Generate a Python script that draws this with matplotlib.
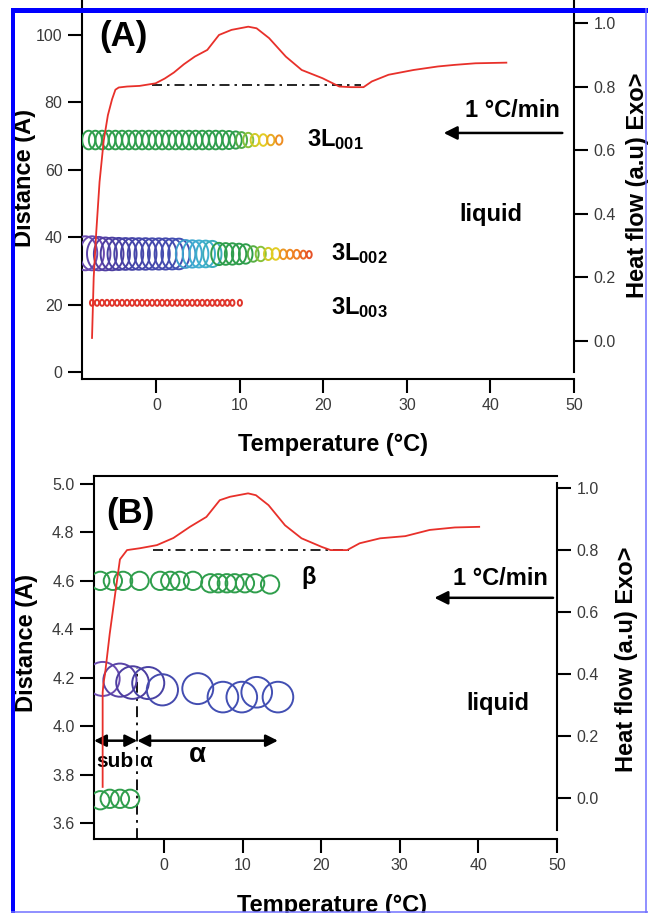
"""
Two-panel DSC / SAXS-WAXS figure: (A) long spacings, (B) short spacings,
heat flow on the right axis.
"""
import numpy as np
import matplotlib.pyplot as plt
from matplotlib.colors import LinearSegmentedColormap
from matplotlib.path import Path
from matplotlib.lines import Line2D

plt.rcParams.update({
    "font.family": ["Liberation Sans", "DejaVu Sans"],
    "mathtext.fontset": "custom",
    "mathtext.rm": "Liberation Sans",
    "mathtext.bf": "Liberation Sans:bold",
    "axes.linewidth": 1.5,
})

# ---------------------------------------------------------------------------
# Data
# ---------------------------------------------------------------------------

# panel A heat flow (DSC, cooling 1 °C/min)
temp_a = [-7.7, -7.5, -7.2, -6.8, -6.3, -5.8, -5.3, -4.9, -4.5, -3.5, -2.0,
          -0.1, 1.0, 2.1, 3.3, 4.6, 6.1, 7.5, 9.0, 11.0, 12.0, 13.5, 15.5,
          17.4, 19.9, 21.9, 23.3, 24.8, 25.8, 27.8, 30.8, 33.7, 35.7, 38.2, 41.9]
heat_a = [0.01, 0.20, 0.34, 0.50, 0.63, 0.71, 0.76, 0.79, 0.797, 0.80, 0.802,
          0.81, 0.825, 0.844, 0.87, 0.894, 0.915, 0.962, 0.978, 0.988, 0.983,
          0.952, 0.894, 0.852, 0.826, 0.80, 0.798, 0.798, 0.816, 0.837, 0.852,
          0.863, 0.868, 0.873, 0.875]
baseline_a = ([-0.5, 24.5], [0.805, 0.805])

# 3L001
l001_t = [-8.1, -7.3, -6.5, -5.7, -4.9, -4.1, -3.3, -2.5, -1.7, -0.9, -0.1,
          0.7, 1.5, 2.3, 3.1, 3.9, 4.7, 5.5, 6.3, 7.1, 7.9, 8.7, 9.5, 10.2,
          11.0, 11.8, 12.8, 13.7, 14.7]
l001_d = [68.8] * 29
l001_i = [0.45] * 21 + [0.43, 0.40, 0.35, 0.30, 0.22, 0.20, 0.16, 0.12]

# 3L002
l002_t = [-8.5, -7.7, -6.9, -6.1, -5.3, -4.5, -3.7, -2.9, -2.1, -1.3, -0.5,
          0.3, 1.1, 1.9, 2.7, 3.5, 4.3, 5.1, 5.9, 6.7, 7.5, 8.3, 9.1, 9.9,
          10.7, 11.6, 12.5, 13.4, 14.3, 15.2, 16.0, 16.8, 17.6, 18.3]
l002_d = [35.2, 35.2, 35.1, 35.0, 35.0, 35.0, 35.0, 35.0, 35.0, 35.0, 35.0,
          35.0, 35.0, 35.0, 35.0, 35.0, 35.0, 35.0, 35.0, 35.0, 35.0, 35.0,
          35.0, 35.0, 35.0, 35.0, 35.0, 35.0, 35.0, 34.9, 34.9, 34.9, 34.8, 34.8]
l002_i = [1.0, 1.0, 0.98, 0.96, 0.95, 0.93, 0.92, 0.92, 0.91, 0.91, 0.90,
          0.90, 0.90, 0.89, 0.88, 0.78, 0.76, 0.75, 0.74, 0.72, 0.58, 0.56,
          0.55, 0.52, 0.48, 0.34, 0.30, 0.22, 0.20, 0.13, 0.11, 0.10, 0.07, 0.04]

# 3L003
l003_t = [-7.7, -7.1, -6.5, -5.9, -5.3, -4.7, -4.1, -3.5, -2.9, -2.3, -1.7,
          -1.1, -0.5, 0.1, 0.7, 1.3, 1.9, 2.5, 3.1, 3.7, 4.3, 4.9, 5.5, 6.1,
          6.7, 7.3, 7.9, 8.5, 9.1, 10.0]
l003_d = [20.5] * 30
l003_i = [0.0] * 30

# panel B heat flow
temp_b = [-7.8, -7.8, -7.7, -7.5, -6.9, -6.2, -5.6, -4.7, -3.05, -0.9, 1.2,
          3.3, 5.4, 7.1, 8.4, 10.7, 11.7, 13.3, 15.4, 17.5, 20.1, 21.2, 23.3,
          24.9, 27.5, 30.7, 33.8, 37.0, 40.1]
heat_b = [0.036, 0.34, 0.37, 0.40, 0.53, 0.66, 0.77, 0.80, 0.806, 0.816,
          0.839, 0.875, 0.907, 0.961, 0.972, 0.983, 0.977, 0.945, 0.88, 0.838,
          0.81, 0.80, 0.80, 0.822, 0.838, 0.845, 0.865, 0.873, 0.875]
baseline_b = ([-1.4, 23.5], [0.80, 0.80])

# beta
beta_t = [-8.1, -6.5, -5.2, -3.1, -0.5, 0.8, 2.0, 3.7, 5.9, 6.9, 8.0, 9.0,
          10.3, 11.6, 13.5]
beta_d = [4.60, 4.60, 4.60, 4.60, 4.60, 4.60, 4.60, 4.60, 4.59, 4.59, 4.59,
          4.59, 4.59, 4.59, 4.585]
beta_i = [0.44] * 15

# alpha
alpha_t = [-7.8, -5.6, -4.0, -2.0, -0.2, 4.3, 7.5, 9.9, 11.8, 14.5]
alpha_d = [4.195, 4.19, 4.18, 4.178, 4.15, 4.155, 4.12, 4.12, 4.14, 4.12]
alpha_i = [1.0, 0.97, 0.95, 0.93, 0.90, 0.89, 0.88, 0.88, 0.88, 0.88]

# sub alpha
sub_t = [-8.1, -6.9, -5.6, -4.3]
sub_d = [3.694, 3.70, 3.70, 3.70]
sub_i = [0.44] * 4

# intensity -> colour (red = weak, violet = strong)
CMAP = LinearSegmentedColormap.from_list("xray", [
    (0.00, "#e0352b"), (0.10, "#ef7f22"), (0.20, "#e3cc22"),
    (0.30, "#86c23c"), (0.38, "#2f9e4c"), (0.58, "#2f9e4c"),
    (0.75, "#3fb0d2"), (0.88, "#4250b4"), (0.95, "#4a3c9e"),
    (1.00, "#6b4bb0")])

RED = "#e8302a"

# tall ellipse marker for panel A
_th = np.linspace(0, 2 * np.pi, 72)
ELLIPSE = Path(np.column_stack([0.70 * np.cos(_th), np.sin(_th)]), closed=True)

W, H = 648, 913


def fig_rect(x0, y0, x1, y1):
    """pixel box (top-left origin) -> figure fraction rect"""
    return [x0 / W, 1 - y1 / H, (x1 - x0) / W, (y1 - y0) / H]


def sizes(intensity):
    diam_px = 6 + 28 * np.asarray(intensity)
    return (diam_px * 0.72) ** 2


def bubbles(ax, t, d, inten, marker="o"):
    ax.scatter(t, d, s=sizes(inten), marker=marker, facecolors="none",
               edgecolors=CMAP(np.asarray(inten)), linewidths=1.4, zorder=3)


def style(ax, ax2, right_bounds, ylim, ylim2, top_spine):
    ax.set_xlim(-8.9, 50)
    ax.set_xticks([0, 10, 20, 30, 40, 50])
    ax.set_ylim(*ylim)
    ax2.set_ylim(*ylim2)
    ax2.set_yticks([0.0, 0.2, 0.4, 0.6, 0.8, 1.0])
    ax2.yaxis.set_major_formatter(plt.FormatStrFormatter("%.1f"))
    ax.spines["right"].set_visible(False)
    ax.spines["top"].set_visible(top_spine)
    for s in ("left", "top", "bottom"):
        ax2.spines[s].set_visible(False)
    ax2.spines["right"].set_bounds(*right_bounds)
    for a in (ax, ax2):
        a.tick_params(direction="out", length=10, width=1.5, labelsize=11.5,
                      labelcolor="#3a3a3a", pad=4)


lab = dict(fontsize=17, fontweight="bold")

fig = plt.figure(figsize=(W / 100, H / 100), dpi=100)

# ---------------------------------------------------------------------------
# (A)
# ---------------------------------------------------------------------------
axA = fig.add_axes(fig_rect(82, -15, 574, 379))
axA2 = axA.twinx()
style(axA, axA2, (-0.097, 1.2), (-2.1, 114.8), (-0.119, 1.119), False)
axA.set_yticks([0, 20, 40, 60, 80, 100])

bubbles(axA, l003_t, l003_d, l003_i, ELLIPSE)
bubbles(axA, l002_t, l002_d, l002_i, ELLIPSE)
bubbles(axA, l001_t, l001_d, l001_i, ELLIPSE)

axA2.plot(temp_a, heat_a, color=RED, lw=1.3, zorder=4)
axA2.plot(*baseline_a, color="k", lw=1.2, ls=(0, (6, 3, 1.5, 3)))

axA.text(-3.9, 99.4, "(A)", fontsize=25, fontweight="bold", ha="center", va="center")
axA.text(48.3, 77.7, "1 °C/min", ha="right", va="center", **lab)
axA.annotate("", xy=(34.4, 70.9), xytext=(48.6, 70.9),
             arrowprops=dict(arrowstyle="-|>", color="k", lw=1.8,
                             mutation_scale=20, shrinkA=0, shrinkB=0))
axA.text(18.0, 68.8, r"$\mathbf{3L_{001}}$", ha="left", va="center", fontsize=17)
axA.text(20.9, 35.0, r"$\mathbf{3L_{002}}$", ha="left", va="center", fontsize=17)
axA.text(20.9, 19.0, r"$\mathbf{3L_{003}}$", ha="left", va="center", fontsize=17)
axA.text(40.1, 46.6, "liquid", ha="center", va="center", **lab)

axA.set_xlabel("Temperature (°C)", **lab)
axA.set_ylabel("Distance (A)", **lab)
axA2.set_ylabel("Heat flow (a.u) Exo>", **lab)
axA.xaxis.set_label_coords(0.511, -0.1675)
axA.yaxis.set_label_coords(-0.116, 0.51)
axA2.yaxis.set_label_coords(1.130, 0.492)
for t in (axA.xaxis.label, axA.yaxis.label, axA2.yaxis.label):
    t.set_va("center")

# ---------------------------------------------------------------------------
# (B)
# ---------------------------------------------------------------------------
axB = fig.add_axes(fig_rect(94, 476, 557, 839))
axB2 = axB.twinx()
style(axB, axB2, (-0.103, 1.016), (3.534, 5.033), (-0.132, 1.039), True)
axB.set_yticks([3.6, 3.8, 4.0, 4.2, 4.4, 4.6, 4.8, 5.0])
axB.yaxis.set_major_formatter(plt.FormatStrFormatter("%.1f"))

bubbles(axB, beta_t, beta_d, beta_i)
bubbles(axB, alpha_t, alpha_d, alpha_i)
bubbles(axB, sub_t, sub_d, sub_i)

axB2.plot(temp_b, heat_b, color=RED, lw=1.3, zorder=4)
axB2.plot(*baseline_b, color="k", lw=1.2, ls=(0, (6, 3, 1.5, 3)))
axB.plot([-3.4, -3.4], [3.534, 4.24], color="k", lw=1.3, ls=(0, (6, 3, 1.5, 3)))

axB.text(-4.3, 4.88, "(B)", fontsize=25, fontweight="bold", ha="center", va="center")
axB.text(17.5, 4.615, "β", ha="left", va="center", **lab)
axB.text(48.9, 4.61, "1 °C/min", ha="right", va="center", **lab)
axB.annotate("", xy=(34.4, 4.53), xytext=(49.5, 4.53),
             arrowprops=dict(arrowstyle="-|>", color="k", lw=1.8,
                             mutation_scale=20, shrinkA=0, shrinkB=0))
for x0, x1 in ((-8.9, -3.4), (-3.4, 14.5)):
    axB.annotate("", xy=(x0, 3.94), xytext=(x1, 3.94),
                 arrowprops=dict(arrowstyle="<|-|>", color="k", lw=1.8,
                                 mutation_scale=18, shrinkA=0, shrinkB=0))
axB.text(-6.2, 3.853, "sub", ha="center", va="center", fontsize=15, fontweight="bold")
axB.text(-2.4, 3.853, "α", ha="center", va="center", fontsize=15, fontweight="bold")
axB.text(4.3, 3.88, "α", ha="center", va="center", fontsize=20, fontweight="bold")
axB.text(42.5, 4.094, "liquid", ha="center", va="center", **lab)

axB.set_xlabel("Temperature (°C)", **lab)
axB.set_ylabel("Distance (A)", **lab)
axB2.set_ylabel("Heat flow (a.u) Exo>", **lab)
axB.xaxis.set_label_coords(0.513, -0.182)
axB.yaxis.set_label_coords(-0.145, 0.54)
axB2.yaxis.set_label_coords(1.151, 0.496)
for t in (axB.xaxis.label, axB.yaxis.label, axB2.yaxis.label):
    t.set_va("center")

# ---------------------------------------------------------------------------
# blue frame round the figure
# ---------------------------------------------------------------------------
def frame_line(xs, ys, color, lw_px):
    fig.add_artist(Line2D([x / W for x in xs], [1 - y / H for y in ys],
                          transform=fig.transFigure, color=color,
                          lw=lw_px * 0.72, solid_capstyle="butt", zorder=10))


frame_line([13, 13], [8, 913], "#0000ff", 4)
frame_line([11, 648], [10.5, 10.5], "#0000ff", 5)
frame_line([645.5, 645.5], [8, 913], "#6f6fff", 1.5)
frame_line([11, 648], [911.5, 911.5], "#6f6fff", 1.5)

fig.savefig("out.png", dpi=100)
